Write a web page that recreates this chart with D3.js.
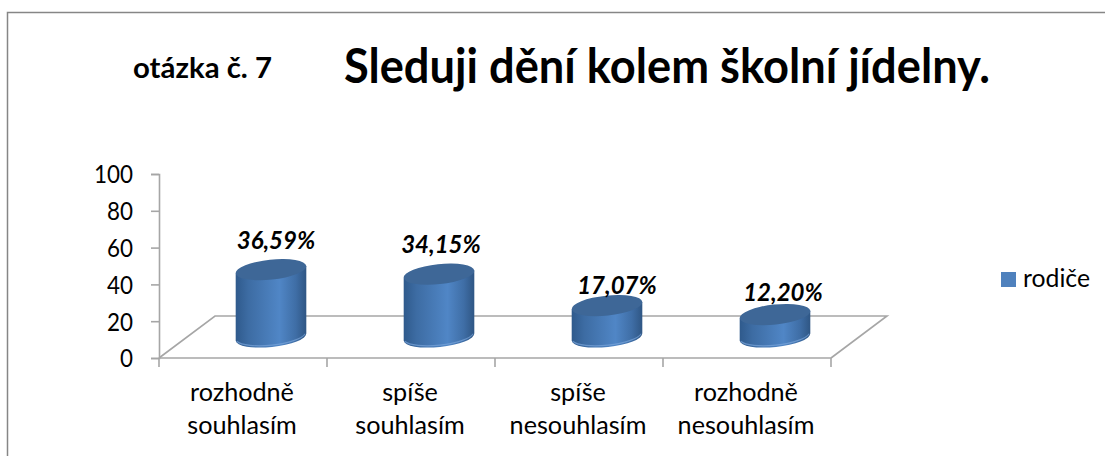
<!DOCTYPE html>
<html><head><meta charset="utf-8">
<script src="https://cdnjs.cloudflare.com/ajax/libs/d3/7.8.5/d3.min.js"></script>
<style>html,body{margin:0;padding:0;background:#fff}svg{display:block}text{font-family:Lato,"Open Sans",sans-serif;fill:#000}</style>
</head><body><svg id="c" width="1105" height="456"></svg>
<script>
const categories = ["rozhodně souhlasím","spíše souhlasím","spíše nesouhlasím","rozhodně nesouhlasím"];
const values = [36.59,34.15,17.07,12.20];
const valueLabels = ["36,59%","34,15%","17,07%","12,20%"];
const yTicks = [0,20,40,60,80,100];
const seriesName = "rodiče";
const titleText = "Sleduji dění kolem školní jídelny.";
const questionText = "otázka č. 7";

const svg = d3.select("#c");
const axisCol = "#a6a6a6";
const W = 1105, H = 456;
const depthX = 56, depthY = 42;
const x = d3.scaleBand().domain(categories).range([159,831]);
const y = d3.scaleLinear().domain([0,100]).range([358,174]);
const defs = svg.append("defs");
const g = defs.append("linearGradient").attr("id","body");
[[0,"#2f5a8c"],[.18,"#3d6ca3"],[.62,"#5086c6"],[.85,"#3f6ea6"],[1,"#2f5684"]].forEach(s=>g.append("stop").attr("offset",s[0]).attr("stop-color",s[1]));

svg.append("path").attr("d",`M${W},12.5H7.5V${H}`).attr("fill","none").attr("stroke","#868686").attr("stroke-width",1.5);

svg.append("text").text(questionText).attr("x",133).attr("y",78).attr("font-size",29).attr("font-weight",700).attr("textLength",139).attr("lengthAdjust","spacingAndGlyphs");
svg.append("text").text(titleText).attr("x",344).attr("y",83).attr("font-size",47).attr("font-weight",700).attr("textLength",646).attr("lengthAdjust","spacingAndGlyphs");

// floor
const [x0,x1] = x.range(), y0 = y(0);
svg.append("path").attr("d",`M${x0},${y0}L${x0+depthX},${y0-depthY}H${x1+depthX}L${x1},${y0}`).attr("fill","none").attr("stroke",axisCol).attr("stroke-width",1.6);

// axes
const ay = svg.append("g").attr("transform",`translate(${x0},0)`).call(d3.axisLeft(y).tickValues(yTicks).tickSize(8).tickPadding(5));
ay.select(".domain").attr("stroke",axisCol).attr("stroke-width",1.6);
ay.selectAll("line").attr("stroke",axisCol).attr("stroke-width",1.6);
ay.selectAll("text").attr("font-size",24.5).attr("font-family","Lato").attr("dx",-13).attr("dy","0.36em").attr("textLength",d=>d===100?39:d===0?13:26).attr("lengthAdjust","spacingAndGlyphs");

const ax = svg.append("g").attr("transform",`translate(0,${y0})`).call(d3.axisBottom(x).tickSize(0).tickFormat(""));
ax.select(".domain").attr("stroke",axisCol).attr("stroke-width",1.6).attr("d",`M${x0},0H${x1}`);
ax.selectAll(".tick").remove();
ax.selectAll("line.t").data(categories.concat("end")).join("line").attr("class","t")
  .attr("x1",(d,i)=>x0+i*x.step()).attr("x2",(d,i)=>x0+i*x.step()).attr("y1",0).attr("y2",9)
  .attr("stroke",axisCol).attr("stroke-width",1.6);

categories.forEach(c=>{
  const cx = x(c)+x.bandwidth()/2;
  c.split(" ").forEach((w,i)=>{
    svg.append("text").text(w).attr("x",cx-1).attr("y",401+i*32.5).attr("text-anchor","middle").attr("font-size",25.2);
  });
});

// cylinders
const rx = 35.5, ry = 10, tilt = -6, baseY = y0-depthY/2;
const labelNudge = [[5,-29],[2,-29],[10,-20],[8,-22]];
const rad = tilt*Math.PI/180;
categories.forEach((c,i)=>{
  const cx = x(c)+x.bandwidth()/2+depthX/2;
  const h = y(0)-y(values[i]);
  const top = baseY-h, bot = baseY;
  const dx = rx*Math.cos(rad), dy = rx*Math.sin(rad);
  const cyl = svg.append("g");
  cyl.append("path").attr("d",
    `M${cx-dx},${top-dy}L${cx-dx},${bot-dy}A${rx},${ry} ${tilt} 0 0 ${cx+dx},${bot+dy}L${cx+dx},${top+dy}Z`)
    .attr("fill","url(#body)");
  cyl.append("path").attr("d",`M${cx-dx+1},${bot-dy+.5}A${rx},${ry} ${tilt} 0 0 ${cx+dx-1},${bot+dy+.5}`)
    .attr("fill","none").attr("stroke","#7aa5da").attr("stroke-width",1.2).attr("opacity",.7);
  cyl.append("ellipse").attr("cx",cx).attr("cy",top).attr("rx",rx).attr("ry",ry)
    .attr("transform",`rotate(${tilt} ${cx} ${top})`).attr("fill","#3e6797");
  svg.append("text").text(valueLabels[i]).attr("x",cx+labelNudge[i][0]).attr("y",top+labelNudge[i][1]+8)
    .attr("text-anchor","middle").attr("font-size",24).attr("font-weight",700).attr("font-style","italic");
});

// legend
svg.append("rect").attr("x",1001).attr("y",272).attr("width",15).attr("height",15).attr("fill","#4f81bd");
svg.append("text").text(seriesName).attr("x",1023).attr("y",287).attr("font-size",24.5).attr("textLength",67).attr("lengthAdjust","spacingAndGlyphs");
</script></body></html>
